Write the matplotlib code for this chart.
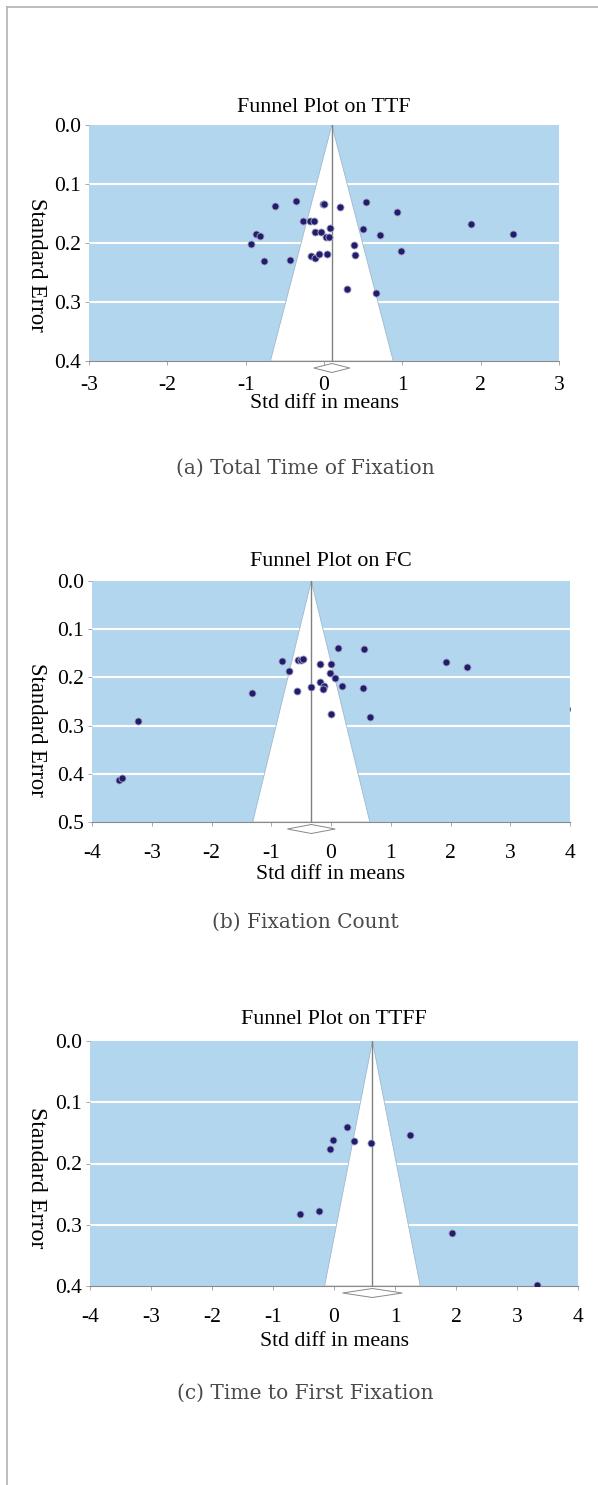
import matplotlib
matplotlib.use("Agg")
import matplotlib.pyplot as plt
from matplotlib.patches import Polygon
from matplotlib.lines import Line2D
import matplotlib.transforms as mtransforms

# --- DATA ---
ttf_effect = [-0.62, -0.36, 0.53, 0.93, -0.01, 0.00, 0.21, -0.27, -0.18, -0.13, 0.50,
              0.08, -0.12, -0.04, 0.71, 1.88, 2.41, -0.87, -0.82, -0.93, 0.03, 0.07,
              0.38, 0.39, 0.98, -0.76, -0.44, -0.17, -0.12, -0.07, 0.04, 0.29, 0.66]
ttf_se = [0.137, 0.129, 0.130, 0.147, 0.134, 0.134, 0.139, 0.162, 0.162, 0.162, 0.176,
          0.174, 0.181, 0.181, 0.186, 0.167, 0.184, 0.185, 0.188, 0.201, 0.190, 0.190,
          0.203, 0.221, 0.214, 0.230, 0.228, 0.222, 0.225, 0.219, 0.219, 0.278, 0.284]

fc_effect = [0.12, 0.56, -0.82, -0.55, -0.51, -0.47, -0.18, 0.00, -0.71, -0.02, 0.07,
             1.92, 2.27, -0.18, -0.12, -0.14, -0.33, 0.18, 0.54, -0.57, -1.32, 0.00,
             0.66, -3.23, -3.55, -3.50, 4.05]
fc_se = [0.138, 0.142, 0.166, 0.164, 0.163, 0.162, 0.173, 0.173, 0.186, 0.190, 0.201,
         0.169, 0.179, 0.210, 0.217, 0.224, 0.220, 0.218, 0.222, 0.228, 0.232, 0.275,
         0.283, 0.290, 0.413, 0.409, 0.265]

ttff_effect = [0.21, -0.01, 0.32, 0.61, -0.06, 1.25, -0.56, -0.25, 1.94, 3.32]
ttff_se = [0.141, 0.162, 0.163, 0.166, 0.177, 0.153, 0.282, 0.277, 0.313, 0.398]

# summary effect and half width of its diamond
summary_mean = [0.10, -0.33, 0.63]
summary_half = [0.23, 0.40, 0.49]

titles = ["Funnel Plot on TTF", "Funnel Plot on FC", "Funnel Plot on TTFF"]
captions = ["(a) Total Time of Fixation", "(b) Fixation Count", "(c) Time to First Fixation"]
x_limits = [(-3, 3), (-4, 4), (-4, 4)]
se_max = [0.4, 0.5, 0.4]

BLUE = "#b3d6ef"
DOT = "#221c6e"
SERIF = ["Liberation Serif", "DejaVu Serif"]

W, H = 598, 1485
fig = plt.figure(figsize=(W / 100, H / 100), dpi=100)

# axes boxes in pixels: left, top, right, bottom
boxes = [(89, 125, 559, 361), (92, 581, 570, 822), (90, 1041, 578, 1286)]
title_y = [107, 562, 1019]
xlabel_y = [404, 874, 1342]
caption_y = [468, 922, 1393]
ylabel_y = [265, 730, 1178]
ylabel_size = [16.3, 16.3, 17.2]
xtick_pad = [7.5, 12.5, 13]


def px_rect(l, t, r, b):
    return [l / W, 1 - b / H, (r - l) / W, (b - t) / H]


datasets = [(ttf_effect, ttf_se), (fc_effect, fc_se), (ttff_effect, ttff_se)]

for i, (eff, se) in enumerate(datasets):
    l, t, r, b = boxes[i]
    ax = fig.add_axes(px_rect(l, t, r, b))
    ax.set_facecolor(BLUE)
    m = summary_mean[i]
    smax = se_max[i]
    xlo, xhi = x_limits[i]

    ax.set_xlim(xlo, xhi)
    ax.set_ylim(smax, 0)

    # grid lines
    k = 1
    while k * 0.1 < smax - 1e-9:
        ax.axhline(k * 0.1, color="white", lw=1.5, zorder=1)
        k += 1

    # funnel
    funnel = Polygon([(m - 1.96 * smax, smax), (m, 0), (m + 1.96 * smax, smax)],
                     closed=True, facecolor="white", edgecolor="#9fb8cc", lw=0.6, zorder=2)
    ax.add_patch(funnel)
    ax.plot([m, m], [0, smax], color="#808080", lw=1.0, zorder=3)

    ax.scatter(eff, se, s=26, color=DOT, edgecolors="#a8a8c0", linewidths=0.6, zorder=4)

    # summary diamond under the axis
    trans = mtransforms.blended_transform_factory(ax.transData, ax.transAxes)
    hpx = b - t
    yc = -7.0 / hpx
    dh = 4.5 / hpx
    hw = summary_half[i]
    diamond = Polygon([(m - hw, yc), (m, yc + dh), (m + hw, yc), (m, yc - dh)],
                      closed=True, facecolor="white", edgecolor="#888888", lw=0.7,
                      transform=trans, clip_on=False, zorder=5)
    ax.add_patch(diamond)

    for name, s in ax.spines.items():
        if name == "bottom":
            s.set_color("#8a8a8a")
            s.set_linewidth(0.8)
        else:
            s.set_visible(False)

    ax.set_xticks(range(xlo, xhi + 1))
    ax.set_xticklabels([str(v) for v in range(xlo, xhi + 1)])
    yt = [round(k * 0.1, 1) for k in range(int(round(smax / 0.1)) + 1)]
    ax.set_yticks(yt)
    ax.set_yticklabels([f"{v:.1f}" for v in yt])
    ax.tick_params(axis="x", length=3, width=0.6, color="#999999", pad=xtick_pad[i], labelsize=15.5)
    ax.tick_params(axis="y", length=3, width=0.6, color="#999999", pad=3, labelsize=15.5)
    for lab in ax.get_xticklabels() + ax.get_yticklabels():
        lab.set_family(SERIF)

    fig.text((l + r) / 2 / W, 1 - title_y[i] / H, titles[i], ha="center", va="center",
             fontsize=15.8, family=SERIF)
    fig.text((l + r) / 2 / W, 1 - xlabel_y[i] / H, "Std diff in means", ha="center",
             va="center", fontsize=15.7, family=SERIF)
    fig.text(36 / W, 1 - ylabel_y[i] / H, "Standard Error", ha="center", va="center",
             rotation=-90, fontsize=ylabel_size[i], family=SERIF)
    fig.text(305 / W, 1 - caption_y[i] / H, captions[i], ha="center", va="center",
             fontsize=14.5, family=["DejaVu Serif"], color="#4a4a4a")

# page frame on the left and top
fig.add_artist(Line2D([7 / W, 7 / W], [0, 1 - 7 / H], color="#b0b0b0", lw=1.2))
fig.add_artist(Line2D([7 / W, 1], [1 - 7 / H, 1 - 7 / H], color="#b0b0b0", lw=1.2))

fig.savefig("out.png", dpi=100, facecolor="white")
